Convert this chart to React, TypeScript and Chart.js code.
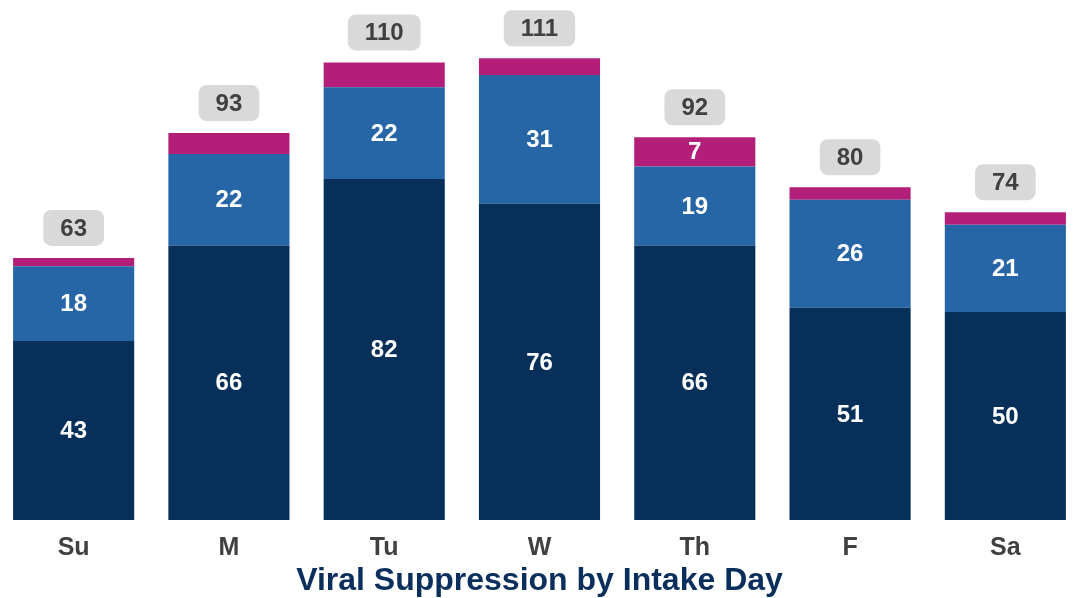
import React, { useEffect, useRef } from "react";
import { Chart, registerables } from "chart.js";

Chart.register(...registerables);

const days = ["Su", "M", "Tu", "W", "Th", "F", "Sa"];
const suppressed = [43, 66, 82, 76, 66, 51, 50];
const notSuppressed = [18, 22, 22, 31, 19, 26, 21];
const unknown = [2, 5, 6, 4, 7, 3, 3];
const totals = [63, 93, 110, 111, 92, 80, 74];
const chartTitle = "Viral Suppression by Intake Day";

const FONT = "'Liberation Sans', Arial, sans-serif";

const labelsPlugin = {
  id: "barLabels",
  afterDatasetsDraw(chart: any) {
    const ctx = chart.ctx;
    ctx.save();
    ctx.font = `bold 24px ${FONT}`;
    ctx.textAlign = "center";
    ctx.textBaseline = "middle";
    chart.data.datasets.forEach((ds: any, di: number) => {
      const meta = chart.getDatasetMeta(di);
      meta.data.forEach((bar: any, i: number) => {
        const v = ds.data[i];
        if (di === 2 && v < 7) return;
        const { x, y, base } = bar.getProps(["x", "y", "base"], true);
        ctx.fillStyle = "#ffffff";
        ctx.fillText(String(v), x, (y + base) / 2 + 1);
      });
    });
    const topMeta = chart.getDatasetMeta(2);
    topMeta.data.forEach((bar: any, i: number) => {
      const { x, y } = bar.getProps(["x", "y"], true);
      const t = String(totals[i]);
      const w = ctx.measureText(t).width + 34;
      const h = 36;
      const by = y - 12 - h;
      ctx.fillStyle = "#d9d9d9";
      ctx.beginPath();
      ctx.roundRect(x - w / 2, by, w, h, 8);
      ctx.fill();
      ctx.fillStyle = "#404040";
      ctx.fillText(t, x, by + h / 2 + 1);
    });
    // chart title below the axis
    ctx.font = `bold 32px ${FONT}`;
    ctx.fillStyle = "#0b2f5c";
    ctx.fillText(chartTitle, chart.width / 2, chart.chartArea.bottom + 61);
    ctx.restore();
  },
};

export default function App() {
  const ref = useRef<HTMLCanvasElement>(null);
  useEffect(() => {
    if (!ref.current) return;
    const chart = new Chart(ref.current, {
      type: "bar",
      data: {
        labels: days,
        datasets: [
          { label: "Suppressed", data: suppressed, backgroundColor: "#062f5a", borderWidth: 0 },
          { label: "Not suppressed", data: notSuppressed, backgroundColor: "#2766a6", borderWidth: 0 },
          { label: "Unknown", data: unknown, backgroundColor: "#b31f78", borderWidth: 0 },
        ],
      },
      options: {
        animation: false,
        responsive: true,
        maintainAspectRatio: false,
        layout: { padding: { left: 0, right: 0, top: 0, bottom: 22 } },
        datasets: { bar: { categoryPercentage: 1, barPercentage: 0.78 } },
        plugins: {
          legend: { display: false },
          tooltip: { enabled: false },
          title: { display: false },
        },
        scales: {
          x: {
            stacked: true,
            grid: { display: false, drawTicks: false },
            border: { display: false },
            ticks: {
              color: "#404040",
              padding: 13,
              font: { family: FONT, size: 25, weight: "bold" },
            },
          },
          y: { stacked: true, display: false, min: 0, max: 125 },
        },
      },
      plugins: [labelsPlugin],
    });
    return () => chart.destroy();
  }, []);
  return (
    <div style={{ position: "fixed", left: 0, top: 0, width: 1076, height: 598, overflow: "hidden", background: "#fff" }}>
      <div style={{ position: "absolute", left: -4, top: 0, width: 1087, height: 598 }}>
        <canvas ref={ref} />
      </div>
    </div>
  );
}
